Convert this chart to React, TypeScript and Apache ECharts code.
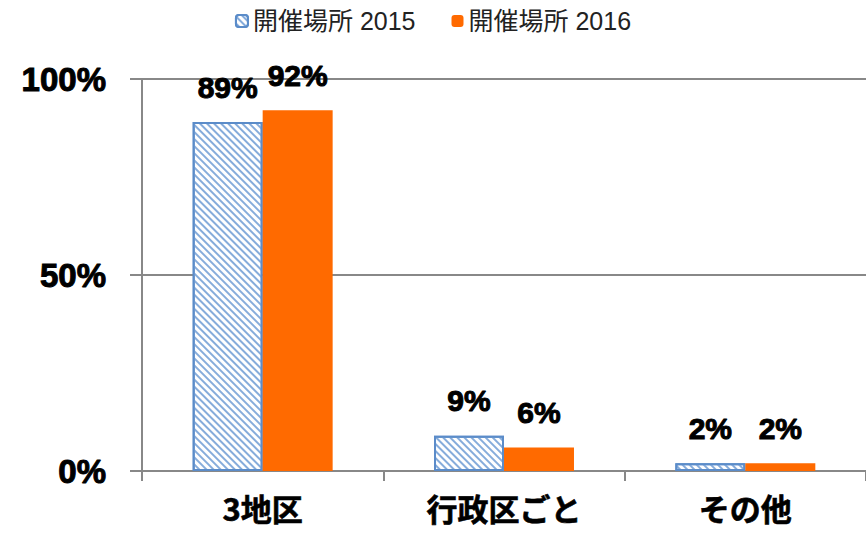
import React, { useEffect, useRef } from "react";
import * as echarts from "echarts";

const categories = ["3地区", "行政区ごと", "その他"];
const seriesNames = ["開催場所 2015", "開催場所 2016"];
const values2015 = [89, 9, 2];
const values2016 = [92, 6, 2];
const yTicks = [0, 50, 100];

export default function App() {
  const ref = useRef<HTMLDivElement>(null);
  useEffect(() => {
    document.body.style.margin = "0";
    const chart = echarts.init(ref.current!, null, { renderer: "svg" });
    const labelStyle = {
      show: true,
      position: "top" as const,
      formatter: "{c}%",
      color: "#000",
      fontSize: 30,
      fontWeight: "bold" as const,
      fontFamily: "Liberation Sans, Arial, sans-serif",
      textBorderColor: "#000",
      textBorderWidth: 1,
      distance: 20,
    };
    chart.setOption({
      animation: false,
      backgroundColor: "#fff",
      legend: {
        top: 1,
        left: "center",
        itemWidth: 12,
        itemHeight: 12,
        itemGap: 36,
        textStyle: {
          fontSize: 25,
          lineHeight: 30,
          color: "#222",
          fontFamily: "Liberation Sans, Noto Sans CJK JP",
        },
        data: seriesNames,
      },
      grid: { left: 142, right: -5, top: 79, bottom: 63, containLabel: false },
      xAxis: {
        type: "category",
        data: categories,
        axisLine: { lineStyle: { color: "#888", width: 2 } },
        axisTick: { show: true, length: 10, lineStyle: { color: "#888", width: 2 } },
        axisLabel: {
          color: "#000",
          fontSize: 31,
          lineHeight: 31,
          fontWeight: "bold",
          fontFamily: "Noto Sans CJK JP",
          textBorderColor: "#000",
          textBorderWidth: 0.6,
          margin: 21,
        },
      },
      yAxis: {
        type: "value",
        min: 0,
        max: 100,
        interval: 50,
        axisLine: { show: true, lineStyle: { color: "#888", width: 2 } },
        axisTick: { show: true, length: 12, lineStyle: { color: "#888", width: 2 } },
        splitLine: { show: true, lineStyle: { color: "#888", width: 2 } },
        axisLabel: {
          formatter: (v: number) => (yTicks.includes(v) ? v + "%" : ""),
          color: "#000",
          fontSize: 33,
          fontWeight: "bold",
          fontFamily: "Liberation Sans, Arial, sans-serif",
          textBorderColor: "#000",
          textBorderWidth: 1,
          margin: 36,
        },
      },
      series: [
        {
          name: seriesNames[0],
          type: "bar",
          data: values2015,
          barGap: "0%",
          barCategoryGap: "42%",
          itemStyle: {
            color: "#ffffff",
            borderColor: "#5b8cc9",
            borderWidth: 2,
            decal: {
              symbol: "rect",
              symbolSize: 1,
              color: "#86acdb",
              backgroundColor: "#ffffff",
              dashArrayX: [1, 0],
              dashArrayY: [2, 3],
              rotation: Math.PI / 4,
            },
          },
          label: labelStyle,
        },
        {
          name: seriesNames[1],
          type: "bar",
          data: values2016,
          itemStyle: { color: "#ff6a00" },
          label: labelStyle,
        },
      ],
    });
    return () => chart.dispose();
  }, []);
  return <div ref={ref} style={{ width: 866, height: 534 }} />;
}
